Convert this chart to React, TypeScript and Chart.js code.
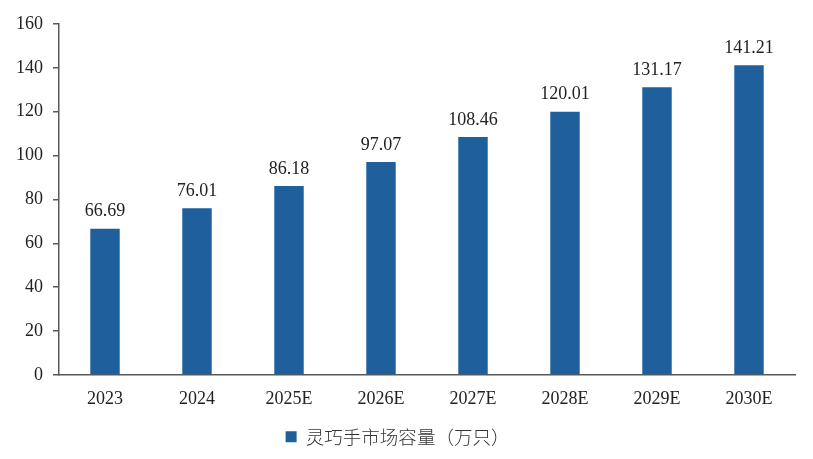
import React, { useEffect, useRef } from 'react';
import { Chart, registerables } from 'chart.js';

Chart.register(...registerables);

const years = ['2023', '2024', '2025E', '2026E', '2027E', '2028E', '2029E', '2030E'];
const capacity = [66.69, 76.01, 86.18, 97.07, 108.46, 120.01, 131.17, 141.21];
const seriesName = '灵巧手市场容量（万只）';

const FONT = "'Liberation Serif', 'Times New Roman', 'Noto Sans CJK SC', serif";
const BAR_COLOR = '#1f5f9b';
const AXIS_COLOR = '#595959';

// draws the value over each bar
const valueLabels = {
  id: 'valueLabels',
  afterDatasetsDraw: (chart: Chart) => {
    const ctx = chart.ctx;
    const meta = chart.getDatasetMeta(0);
    ctx.save();
    ctx.font = `18px ${FONT}`;
    ctx.fillStyle = '#222';
    ctx.textAlign = 'center';
    ctx.textBaseline = 'bottom';
    meta.data.forEach((bar: any, i: number) => {
      ctx.fillText(capacity[i].toFixed(2), bar.x, bar.y - 8);
    });
    ctx.restore();
  },
};

const App: React.FC = () => {
  const canvasRef = useRef<HTMLCanvasElement>(null);

  useEffect(() => {
    if (!canvasRef.current) return;
    const chart = new Chart(canvasRef.current, {
      type: 'bar',
      data: {
        labels: years,
        datasets: [
          {
            label: seriesName,
            data: capacity,
            backgroundColor: BAR_COLOR,
            borderWidth: 0,
            barPercentage: 0.32,
            categoryPercentage: 1,
          },
        ],
      },
      options: {
        responsive: false,
        animation: false,
        layout: { padding: { top: 24, right: 18, left: 0, bottom: 3 } },
        plugins: {
          tooltip: { enabled: false },
          legend: {
            position: 'bottom',
            labels: {
              color: '#333',
              boxWidth: 11,
              boxHeight: 11,
              padding: 6,
              font: { size: 18.5, family: "'Noto Sans CJK SC', sans-serif", weight: '300' },
            },
          },
        },
        scales: {
          x: {
            afterFit: (scale: any) => {
              scale.height -= 3;
            },
            grid: { display: false, drawTicks: false },
            border: { display: true, color: AXIS_COLOR, width: 1.5 },
            ticks: {
              color: '#222',
              padding: 14,
              font: { size: 18, family: FONT },
            },
          },
          y: {
            min: 0,
            max: 160,
            afterFit: (scale: any) => {
              scale.width = 59;
            },
            grid: { drawOnChartArea: false, drawTicks: true, tickLength: 6, color: AXIS_COLOR, lineWidth: 1.5 },
            border: { display: true, color: AXIS_COLOR, width: 1.5 },
            ticks: {
              stepSize: 20,
              color: '#222',
              padding: 10,
              font: { size: 18, family: FONT },
            },
          },
        },
      },
      plugins: [valueLabels],
    });
    return () => chart.destroy();
  }, []);

  return (
    <div style={{ position: 'fixed', left: 0, top: 0, width: 813, height: 459, background: '#fff' }}>
      <canvas ref={canvasRef} width={813} height={459} />
    </div>
  );
};

export default App;
